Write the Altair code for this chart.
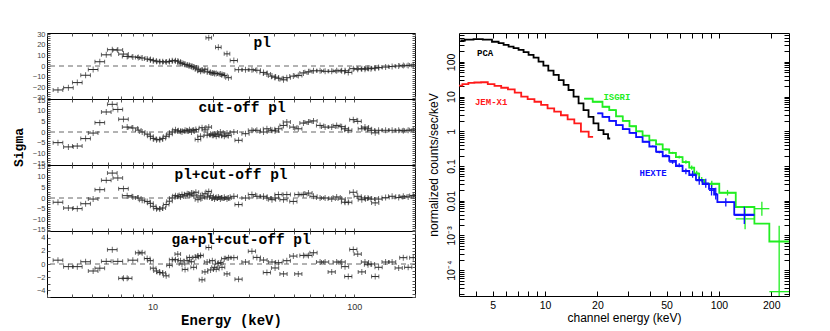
import altair as alt
import pandas as pd

# ---------------- residual panels (left) ----------------
energy = [3.40, 3.83, 4.24, 4.66, 5.08, 5.48, 5.90, 6.32, 6.73, 7.18,
          7.49, 7.99, 8.50, 8.89, 9.41, 9.77, 10.08, 10.47, 10.87, 11.24,
          11.69, 12.14, 12.52, 13.00, 13.34, 13.77, 14.00, 14.50, 14.86, 15.25,
          15.60, 16.00, 16.40, 16.80, 17.30, 17.60, 18.20, 18.65, 19.00, 19.40,
          19.80, 20.30, 20.70, 21.20, 21.70, 22.10, 22.70, 23.40, 23.80, 25.30,
          26.70, 28.90, 31.10, 32.90, 35.50, 36.90, 39.10, 40.50, 42.10, 44.60,
          46.30, 49.90, 52.80, 56.00, 59.30, 62.80, 67.70, 71.70, 77.30, 81.80,
          86.60, 90.00, 93.40, 98.90, 104, 109, 113, 117, 121, 127,
          132, 143, 154, 166, 175, 185, 196]

res_pl = [-22.5, -20.4, -15.6, -8.7, -3.3, 4, 10.5, 15.3, 15, 11.2,
          9, 8.5, 8, 7.5, 6.5, 6, 5, 4.5, 4, 4,
          3.8, 4.2, 5, 5, 4.5, 3, 2.5, 1.5, 1, 0.5,
          -0.5, -1, -2, -3.5, -5, -4, -3, -5.5, 26.5, -6,
          -6.5, -7, -7, 17.5, -7.5, -8, -9, 11.4, -11, 5.1,
          -3.5, -3.5, -3.5, -4, -6, -7.5, -9.5, -10.5, -11.5, -13,
          -11, -9.5, -9, -6.5, -5.5, -4.5, -4.5, -5, -5, -4.5,
          -4.5, -4.5, -6, -2.5, -3, -2.5, -3, -2, -2.5, -2,
          -1.5, -1, -0.5, 0, 0.5, 0.5, 1]

res_cut = [-5, -7, -6.6, -3.1, -0.5, 4.4, 9.4, 13, 10.6, 6,
           2.3, 1.9, 0.9, 0, -1, -2, -3, -3.6, -3.6, -3,
           -2, -1, 0, 1, 0.5, 0.3, 0, 0.8, 0.5, 1,
           0, 0.8, 1.2, -3.5, -2, 2, 1, -1.5, 2.3, -1,
           -1.5, -1, -2, -1, 0, -1.5, -2, -0.5, -1.6, 0,
           -3.9, -0.8, 0.8, 0.8, 0, 1.5, 0.8, 0.5, 1.5, 3.1,
           4.7, 2.3, 1.5, 4.2, 4.7, 5.2, 3.1, 2.3, 2.3, 3.1,
           2.5, 1.5, 0.8, 5.8, 5, 1.5, 2.3, 1.5, 0.8, -0.4,
           0.8, 0.8, 0.8, 0.8, 0.6, 0.8, 1]

res_plcut = [-2, -4.7, -5, -2.7, -0.5, 3.9, 8.3, 11.7, 9.4, 4.4,
             1.1, 0.5, 0, -1, -1.6, -2.5, -3.9, -5, -5.2, -4.7,
             -3.1, -1.5, 0, 1.1, 0.8, 0.5, 1.6, 1, 2, 1.5,
             2.3, 1, 2.7, -0.8, 1, 0, 2, 0.5, 3.1, 1,
             0, -0.5, 0.2, 0.5, -0.5, 0, 0.3, -0.5, 0, 0.8,
             -3.1, 0, 1.6, 0.8, 0.8, 0, -0.8, 0, 1.6, -0.8,
             1.6, -1.6, 1.6, 1.6, 2.3, 0.8, 0, 0, -0.5, 0.5,
             -0.5, -2, -2, 2.7, 0.8, -0.8, 0, 0, -0.5, -2.3,
             -0.5, 0.2, 0.8, 0.2, 0.8, 0.5, 1.2]

res_ga = [0.58, -0.4, -0.4, 0.34, -1.06, -0.63, 0.4, 2.17, 0.4, -2.17,
          -2.17, 0.58, 1.69, 1.69, 0.83, 0.5, -0.63, -1.06, -1.3, -1.35,
          -1.79, -0.2, 0.65, 0.65, 1.5, 0.5, 0, -0.82, 0.5, 1.0,
          0.34, -0.5, 1.0, 1.2, 1.3, -2.4, -1.2, 0.3, 2.5, -0.9,
          0.5, -0.5, -0.8, 0.1, 0.2, -0.5, 0.8, -1.5, 0.96, 0.96,
          -2.3, 0.3, 1.93, 1.0, 0.6, -1.3, 0.3, -0.6, 0.2, -1.5,
          0.5, 1.2, -1.5, 1.3, 1.3, 1.7, 0.3, 0.3, -1.2, 0.3,
          0.3, -0.4, -1.9, 2.2, 1.5, -1.2, 0.3, -0.1, 0, -1.9,
          -0.5, 0.3, 0.3, -0.6, 0.96, -0.5, 0.96]

panel_labels = ["pl", "cut-off pl", "pl+cut-off pl", "ga+pl+cut-off pl"]
panel_label_E = [35, 27.8, 24.5, 27.5]
panel_label_v = [22, 11.3, 10.8, 3.6]

# ---------------- spectra (right) ----------------
pca_E = [3.26, 3.67, 4.10, 4.69, 5.23, 5.59, 5.97, 6.38, 6.81, 7.28, 7.78, 8.31, 8.88, 9.48,
         10.1, 10.8, 11.6, 12.4, 13.2, 14.1, 15.1, 16.1, 17.2, 18.4, 19.6, 21.0, 22.4, 23.7]
pca_F = [414, 440, 455, 440, 380, 347, 310, 277, 249, 222, 191, 159, 133, 102,
         78, 56, 42, 30, 21.7, 15.5, 10, 6.4, 4.1, 2.6, 1.7, 1.08, 0.83, 0.62]

jemx_E = [3.2, 3.5, 3.75, 4.1, 4.48, 4.9, 5.35, 5.85, 6.4, 7.0, 7.6, 8.3, 9.1, 9.9,
          10.8, 11.8, 12.9, 14.1, 15.4, 16.8, 18.9]
jemx_F = [20.6, 23, 25, 25.5, 25.9, 23, 20.3, 18, 16.2, 13, 10, 8.5, 7.1, 5.8,
          4.6, 3.7, 2.9, 2.2, 1.7, 0.98, 0.69]

isgri_edges = [16.8, 18.8, 21.4, 23.4, 25.6, 28, 30.6, 33.4, 36.4, 39.8, 43.5, 47.5,
               51.8, 56.6, 61.8, 67.5, 72.1, 77, 82.4, 100.5, 125, 160, 195, 253]
isgri_model = [8.7, 7.1, 5.1, 4.1, 2.7, 2.0, 1.4, 1.0, 0.75, 0.55, 0.42, 0.3,
               0.24, 0.18, 0.13, 0.09, 0.06, 0.04, 0.031, 0.017, 0.0066, 0.0022, 0.00067]
isgri_data = [8.7, 7.1, 5.1, 4.1, 2.7, 2.0, 1.4, 1.0, 0.75, 0.55, 0.42, 0.3,
              0.24, 0.18, 0.13, 0.09, 0.062, 0.04, 0.03, 0.017, 0.003, 0.0059, 0.000024]
isgri_err_dex = [0.01, 0.01, 0.01, 0.01, 0.01, 0.01, 0.01, 0.015, 0.02, 0.02, 0.02, 0.03,
                 0.03, 0.04, 0.05, 0.06, 0.07, 0.08, 0.1, 0.08, 0.3, 0.2, 1.9]

hexte_edges = [20, 21.4, 23.4, 25.6, 28, 30.6, 33.4, 36.4, 39.8, 43.5, 47.5, 51.8,
               56.6, 61.8, 67.5, 73.8, 80.5, 87.7, 93.8, 98, 122.5, 160]
hexte_model = [3.3, 2.6, 2.0, 1.5, 1.15, 0.9, 0.68, 0.5, 0.36, 0.26, 0.19, 0.14,
               0.1, 0.072, 0.055, 0.04, 0.03, 0.022, 0.015, 0.0091, 0.004]
hexte_data = [3.3, 2.6, 2.0, 1.5, 1.15, 0.9, 0.68, 0.5, 0.37, 0.25, 0.2, 0.13,
              0.105, 0.07, 0.058, 0.038, 0.032, 0.02, 0.016, 0.009, 0.0038]
hexte_err_dex = [0.01, 0.01, 0.01, 0.01, 0.01, 0.01, 0.01, 0.01, 0.02, 0.03, 0.04, 0.05,
                 0.06, 0.08, 0.1, 0.12, 0.13, 0.15, 0.17, 0.12, 0.25]

inst_names = ["PCA", "JEM-X1", "ISGRI", "HEXTE"]
inst_colors = ["#000000", "#ff1a1a", "#22ee22", "#1010ff"]
inst_label_E = [4.52, 4.9, 25.9, 41.8]
inst_label_F = [182, 7.0, 9.8, 0.062]

# ---------------- styling ----------------
MONO = "Liberation Mono"
SANS = "Liberation Sans"
RES_COLOR = "#2b2b2b"
LEFT_W, PANEL_H = 368, 66
RIGHT_W, RIGHT_H = 330, 263

x_left_ticks = [3, 4, 5, 6, 7, 8, 9, 10, 20, 30, 40, 50, 60, 70, 80, 90, 100, 200]


def residual_panel(vals, idx, ydom, minor_step, major_step, last, sigma):
    hw = [0.024 if e < 8 else (0.014 if e < 25 else 0.018) for e in energy]
    df = pd.DataFrame({
        "E": energy,
        "v": vals,
        "lo": [e / 10 ** h for e, h in zip(energy, hw)],
        "hi": [e * 10 ** h for e, h in zip(energy, hw)],
    })
    xs = alt.Scale(type="log", domain=[3, 200], nice=False)
    ys = alt.Scale(domain=ydom, nice=False, zero=False)
    n = int(ydom[1] // minor_step)
    yt = [round(i * minor_step, 6) for i in range(-n, n + 1)]

    left_kw = dict(orient="left", values=yt, format="d",
                   labelExpr=f"abs(datum.value % {major_step}) < 1e-6 ? datum.label : ''",
                   tickSize=3, offset=-3, domain=False, grid=False, labelOverlap=False,
                   labelFont=SANS, labelFontSize=7.5, labelColor="#444", labelPadding=2,
                   tickColor="#555", minExtent=16, maxExtent=16)
    if sigma:
        left_kw.update(title="Sigma", titleFont=MONO, titleFontSize=13, titleFontWeight="bold",
                       titleX=-32, titleY=48, titleAngle=270, titleAlign="center",
                       titleBaseline="middle", titleColor="#000")
    else:
        left_kw.update(title=None)

    bottom_kw = dict(orient="bottom", values=x_left_ticks, tickSize=3, offset=-3, domain=False,
                     grid=False, labelOverlap=False, tickColor="#555")
    if last:
        bottom_kw.update(labelExpr="datum.value == 10 ? '10' : datum.value == 100 ? '100' : ''",
                         labelFont=SANS, labelFontSize=9, labelColor="#333", labelPadding=5,
                         title="Energy (keV)", titleFont=MONO, titleFontSize=14,
                         titleFontWeight="bold", titlePadding=2, titleColor="#000")
    else:
        bottom_kw.update(labels=False, title=None, minExtent=0, maxExtent=0)

    top_ax = alt.Axis(orient="top", values=x_left_ticks, tickSize=3, offset=-3, domain=False,
                      grid=False, labels=False, title=None, minExtent=0, maxExtent=0, tickColor="#555")
    right_ax = alt.Axis(orient="right", values=yt, tickSize=3, offset=-3, domain=False, grid=False,
                        labels=False, title=None, minExtent=0, maxExtent=0, tickColor="#555")

    zero = alt.Chart(pd.DataFrame({"z": [0]})).mark_rule(
        strokeDash=[5, 4], color="#666", strokeWidth=1).encode(
        y=alt.Y("z:Q", scale=ys, axis=None))
    hbar = alt.Chart(df).mark_rule(color=RES_COLOR, strokeWidth=1, clip=True).encode(
        x=alt.X("lo:Q", scale=xs, axis=alt.Axis(**bottom_kw)),
        x2="hi:Q",
        y=alt.Y("v:Q", scale=ys, axis=alt.Axis(**left_kw)))
    vbar = alt.Chart(df).mark_tick(orient="vertical", size=6, thickness=1, color=RES_COLOR, clip=True).encode(
        x=alt.X("E:Q", scale=xs, axis=None), y=alt.Y("v:Q", scale=ys, axis=None))
    cap_lo = alt.Chart(df).mark_tick(orient="vertical", size=4, thickness=1, color=RES_COLOR, clip=True).encode(
        x=alt.X("lo:Q", scale=xs, axis=None), y=alt.Y("v:Q", scale=ys, axis=None))
    cap_hi = alt.Chart(df).mark_tick(orient="vertical", size=4, thickness=1, color=RES_COLOR, clip=True).encode(
        x=alt.X("hi:Q", scale=xs, axis=None), y=alt.Y("v:Q", scale=ys, axis=None))
    axes2 = alt.Chart(pd.DataFrame({"E": [10], "v": [0]})).mark_point(opacity=0).encode(
        x=alt.X("E:Q", scale=xs, axis=top_ax), y=alt.Y("v:Q", scale=ys, axis=right_ax))
    lab = alt.Chart(pd.DataFrame({"E": [panel_label_E[idx]], "v": [panel_label_v[idx]],
                                  "t": [panel_labels[idx]]})).mark_text(
        font=MONO, fontWeight="bold", fontSize=14.5, align="center", baseline="middle",
        color="#000").encode(
        x=alt.X("E:Q", scale=xs, axis=None), y=alt.Y("v:Q", scale=ys, axis=None), text="t:N")

    return alt.layer(hbar, zero, vbar, cap_lo, cap_hi, axes2, lab).resolve_axis(
        x="independent", y="independent").properties(width=LEFT_W, height=PANEL_H)


p1 = residual_panel(res_pl, 0, [-31, 31], 2, 10, False, False)
p2 = residual_panel(res_cut, 1, [-15.5, 15.5], 1, 5, False, True)
p3 = residual_panel(res_plcut, 2, [-15.5, 15.5], 1, 5, False, False)
p4 = residual_panel(res_ga, 3, [-5, 5], 0.5, 2, True, False)
left = alt.vconcat(p1, p2, p3, p4, spacing=0, bounds="flush")

# ---------------- right spectrum ----------------
xs_r = alt.Scale(type="log", domain=[3.2, 253], nice=False)
ys_r = alt.Scale(type="log", domain=[1.8e-5, 680], nice=False)

xr_ticks = [4, 5, 6, 7, 8, 9, 10, 20, 30, 40, 50, 60, 70, 80, 90, 100, 200]
yr_ticks = []
for k in range(-5, 3):
    for m in range(1, 10):
        v = 10.0 ** k if m == 1 else round(m * 10.0 ** k, 10)
        if 1.8e-5 <= v <= 680:
            yr_ticks.append(v)

ylab_expr = ("datum.value == 100 ? '100' : datum.value == 10 ? '10' : datum.value == 1 ? '1' : "
             "datum.value == 0.1 ? '0.1' : datum.value == 0.01 ? '0.01' : "
             "datum.value == 0.001 ? '10\u207b\u00b3' : datum.value == 0.0001 ? '10\u207b\u2074' : ''")
xlab_expr = ("indexof([5,10,20,50,100,200], datum.value) >= 0 ? datum.label : ''")

xr_axis = alt.Axis(orient="bottom", values=xr_ticks, labelExpr=xlab_expr, tickSize=5, offset=-5,
                   domain=False, grid=False, labelOverlap=False, labelFont=SANS, labelFontSize=10.5,
                   labelColor="#000", labelPadding=4, title="channel energy (keV)", titleFont=SANS,
                   titleFontSize=12, titleFontWeight="normal", titlePadding=2, tickColor="#000", format="d")
yr_axis = alt.Axis(orient="left", values=yr_ticks, labelExpr=ylab_expr, tickSize=5, offset=-5,
                   domain=False, grid=False, labelOverlap=False, labelFont=SANS, labelFontSize=10.5,
                   labelColor="#000", labelPadding=3, labelAngle=270, labelAlign="center",
                   labelBaseline="bottom", title="normalized counts/sec/keV", titleFont=SANS,
                   titleFontSize=12, titleFontWeight="normal", titlePadding=6, tickColor="#000",
                   minExtent=18, maxExtent=18)
xr_top = alt.Axis(orient="top", values=xr_ticks, tickSize=5, offset=-5, domain=False, grid=False,
                  labels=False, title=None, minExtent=0, maxExtent=0, tickColor="#000")
yr_right = alt.Axis(orient="right", values=yr_ticks, tickSize=5, offset=-5, domain=False, grid=False,
                    labels=False, title=None, minExtent=0, maxExtent=0, tickColor="#000")

pca_df = pd.DataFrame({"E": pca_E, "F": pca_F})
jemx_df = pd.DataFrame({"E": jemx_E, "F": jemx_F})
isgri_line = pd.DataFrame({"E": isgri_edges, "F": isgri_model + [isgri_model[-1]]})
hexte_line = pd.DataFrame({"E": hexte_edges, "F": hexte_model + [hexte_model[-1]]})


def cross_df(edges, data, err):
    lo, hi = edges[:-1], edges[1:]
    return pd.DataFrame({
        "lo": lo, "hi": hi,
        "c": [(a * b) ** 0.5 for a, b in zip(lo, hi)],
        "F": data,
        "Flo": [d / 10 ** e for d, e in zip(data, err)],
        "Fhi": [d * 10 ** e for d, e in zip(data, err)],
    })


isgri_x = cross_df(isgri_edges, isgri_data, isgri_err_dex)
hexte_x = cross_df(hexte_edges, hexte_data, hexte_err_dex)

layers = [
    alt.Chart(pca_df).mark_line(interpolate="step", color=inst_colors[0], strokeWidth=1.8, clip=True).encode(
        x=alt.X("E:Q", scale=xs_r, axis=xr_axis), y=alt.Y("F:Q", scale=ys_r, axis=yr_axis)),
    alt.Chart(jemx_df).mark_line(interpolate="step", color=inst_colors[1], strokeWidth=1.8, clip=True).encode(
        x=alt.X("E:Q", scale=xs_r, axis=None), y=alt.Y("F:Q", scale=ys_r, axis=None)),
]
for line_df, xdf, col in [(isgri_line, isgri_x, inst_colors[2]), (hexte_line, hexte_x, inst_colors[3])]:
    layers.append(alt.Chart(line_df).mark_line(interpolate="step-after", color=col, strokeWidth=1.8,
                                               clip=True).encode(
        x=alt.X("E:Q", scale=xs_r, axis=None), y=alt.Y("F:Q", scale=ys_r, axis=None)))
    layers.append(alt.Chart(xdf).mark_rule(color=col, strokeWidth=1.3, clip=True).encode(
        x=alt.X("c:Q", scale=xs_r, axis=None), y=alt.Y("Flo:Q", scale=ys_r, axis=None), y2="Fhi:Q"))
    layers.append(alt.Chart(xdf).mark_rule(color=col, strokeWidth=1.3, clip=True).encode(
        x=alt.X("lo:Q", scale=xs_r, axis=None), x2="hi:Q", y=alt.Y("F:Q", scale=ys_r, axis=None)))

layers.append(alt.Chart(pd.DataFrame({"E": [10], "F": [1]})).mark_point(opacity=0).encode(
    x=alt.X("E:Q", scale=xs_r, axis=xr_top), y=alt.Y("F:Q", scale=ys_r, axis=yr_right)))

lab_df = pd.DataFrame({"E": inst_label_E, "F": inst_label_F, "t": inst_names, "col": inst_colors})
layers.append(alt.Chart(lab_df).mark_text(font=MONO, fontWeight="bold", fontSize=9, align="center",
                                          baseline="middle").encode(
    x=alt.X("E:Q", scale=xs_r, axis=None), y=alt.Y("F:Q", scale=ys_r, axis=None), text="t:N",
    color=alt.Color("col:N", scale=None)))

right = alt.layer(*layers).resolve_axis(x="independent", y="independent").properties(
    width=RIGHT_W, height=RIGHT_H)

chart = alt.hconcat(left, right, spacing=10).properties(
    padding={"left": 3, "top": 21, "right": 0, "bottom": 0}
).configure_view(stroke="#000", strokeWidth=1)

chart.save("out.html", embed_options={"renderer": "svg", "actions": False})
